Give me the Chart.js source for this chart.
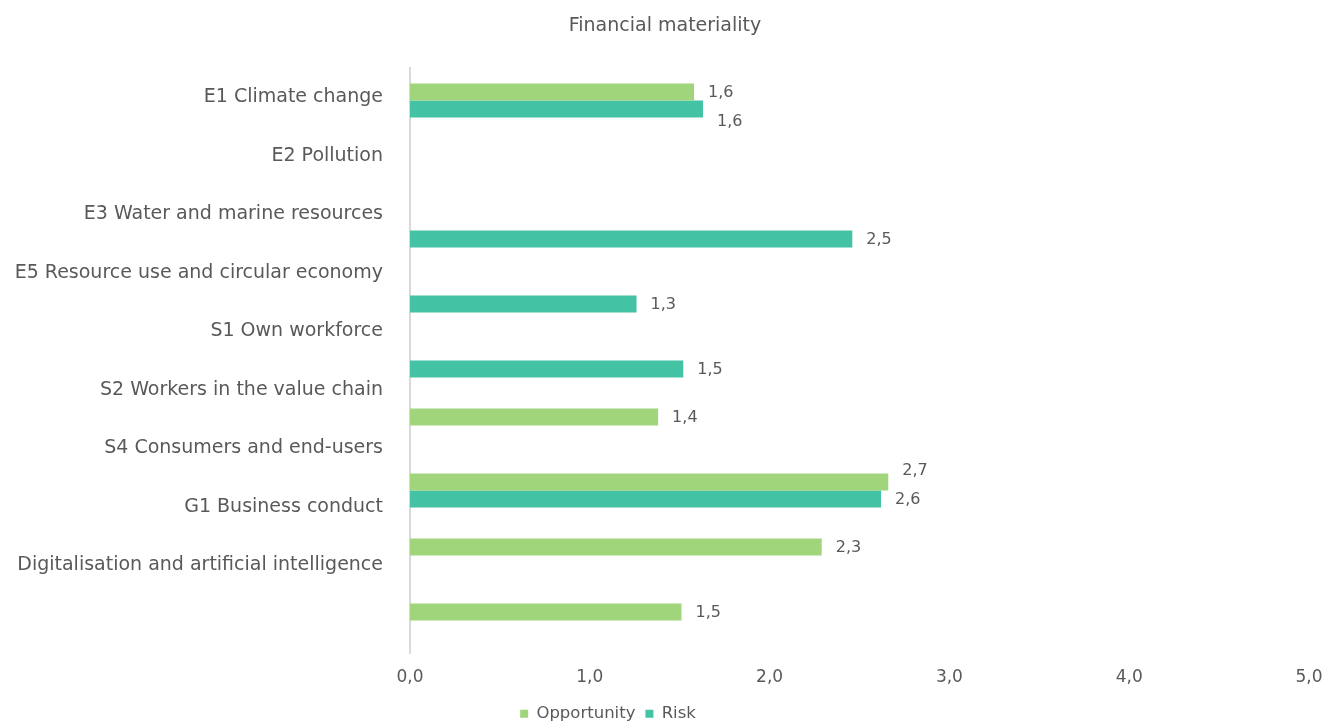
<!DOCTYPE html>
<html lang="en">
<head>
    <meta charset="UTF-8">
    <title>Financial materiality</title>
    <script src="https://cdn.jsdelivr.net/npm/chart.js"></script>
    <style>
        html, body { margin: 0; padding: 0; background: #fff; }
        #wrap { width: 1324px; height: 724px; }
    </style>
</head>
<body>
    <div id="wrap"><canvas id="chart" width="1324" height="724"></canvas></div>

    <script>
        // topics (one per bar group)
        const categories = [
            'E1 Climate change',
            'E2 Pollution',
            'E3 Water and marine resources',
            'E5 Resource use and circular economy',
            'S1 Own workforce',
            'S2 Workers in the value chain',
            'S4 Consumers and end-users',
            'G1 Business conduct',
            'Digitalisation and artificial intelligence'
        ];
        // labels as printed on the left axis (the axis has one extra empty slot)
        const axisLabels = categories.concat(['']);

        const opportunity = [1.58, null, null, null, null, 1.38, 2.66, 2.29, 1.51];
        const risk        = [1.63, null, 2.46, 1.26, 1.52, null, 2.62, null, null];

        const xTicks = [0, 1, 2, 3, 4, 5];

        const textColor = '#595959';
        const fontFamily = '"DejaVu Sans", sans-serif';

        function fmt(v) {
            return v.toFixed(1).replace('.', ',');
        }

        // value labels to the right of each bar, pushed apart when a pair would overlap
        const valueLabels = {
            id: 'valueLabels',
            afterDatasetsDraw(chart) {
                const ctx = chart.ctx;
                const items = [];
                chart.data.datasets.forEach((ds, di) => {
                    const meta = chart.getDatasetMeta(di);
                    meta.data.forEach((bar, i) => {
                        if (ds.data[i] == null) return;
                        items.push({ i, v: ds.data[i], x: bar.x + 14, y: bar.y });
                    });
                });
                for (let a = 0; a < items.length; a++) {
                    for (let b = a + 1; b < items.length; b++) {
                        const p = items[a], q = items[b];
                        if (p.i !== q.i || Math.abs(p.x - q.x) > 30) continue;
                        const gap = 29;
                        if (Math.abs(p.y - q.y) < gap) {
                            // move the label of the longer bar away
                            if (p.v > q.v) p.y = q.y - gap;
                            else q.y = p.y + gap;
                        }
                    }
                }
                ctx.save();
                ctx.font = '16px ' + fontFamily;
                ctx.fillStyle = textColor;
                ctx.textAlign = 'left';
                ctx.textBaseline = 'middle';
                items.forEach(it => ctx.fillText(fmt(it.v), it.x, it.y + 1));
                ctx.restore();
            }
        };

        // title and legend sit a little off-centre in the original export
        const boxNudge = {
            id: 'boxNudge',
            afterLayout(chart) {
                const lg = chart.legend;
                if (lg) {
                    lg.left -= 46.5;
                    lg.right -= 46.5;
                    lg.top += 8;
                    lg.bottom += 8;
                }
                const tb = chart.titleBlock;
                if (tb) {
                    tb.left += 10.5;
                    tb.right += 10.5;
                }
            }
        };

        new Chart(document.getElementById('chart'), {
            type: 'bar',
            data: {
                labels: categories,
                datasets: [
                    {
                        label: 'Opportunity',
                        data: opportunity,
                        backgroundColor: '#a1d57c',
                        borderWidth: 0
                    },
                    {
                        label: 'Risk',
                        data: risk,
                        backgroundColor: '#44c2a4',
                        borderWidth: 0
                    }
                ]
            },
            options: {
                indexAxis: 'y',
                responsive: false,
                animation: false,
                maintainAspectRatio: false,
                layout: { padding: { left: 0, right: 15, top: 0, bottom: 0 } },
                datasets: {
                    bar: { barPercentage: 1, categoryPercentage: 0.523 }
                },
                scales: {
                    x: {
                        min: 0,
                        max: 5,
                        afterBuildTicks(scale) {
                            scale.ticks = xTicks.map(v => ({ value: v }));
                        },
                        afterFit(scale) {
                            scale.height = scale.chart.height - 653 - scale.chart.legend.height;
                            scale.paddingRight = 0;
                            scale.paddingLeft = 0;
                        },
                        grid: { display: false, drawTicks: false },
                        border: { display: false },
                        ticks: {
                            padding: 14,
                            color: textColor,
                            font: { family: fontFamily, size: 17 },
                            callback: v => fmt(v)
                        }
                    },
                    y: {
                        display: false,
                        afterFit(scale) { scale.width = 0; }
                    },
                    yLabels: {
                        type: 'category',
                        position: 'left',
                        labels: axisLabels,
                        offset: true,
                        afterFit(scale) { scale.width = 410; },
                        grid: { display: false, drawTicks: false },
                        border: { display: true, color: '#d9d9d9', width: 2 },
                        ticks: {
                            padding: 27,
                            color: textColor,
                            autoSkip: false,
                            font: { family: fontFamily, size: 19 }
                        }
                    }
                },
                plugins: {
                    title: {
                        display: true,
                        text: 'Financial materiality',
                        color: textColor,
                        font: { family: fontFamily, size: 19, weight: 'normal' },
                        padding: { top: 15, bottom: 30.2 }
                    },
                    legend: {
                        position: 'bottom',
                        labels: {
                            usePointStyle: true,
                            pointStyle: 'rect',
                            boxWidth: 8,
                            boxHeight: 8,
                            padding: 10,
                            color: textColor,
                            font: { family: fontFamily, size: 16.5 }
                        }
                    },
                    tooltip: { enabled: false }
                }
            },
            plugins: [valueLabels, boxNudge]
        });
    </script>
</body>
</html>
